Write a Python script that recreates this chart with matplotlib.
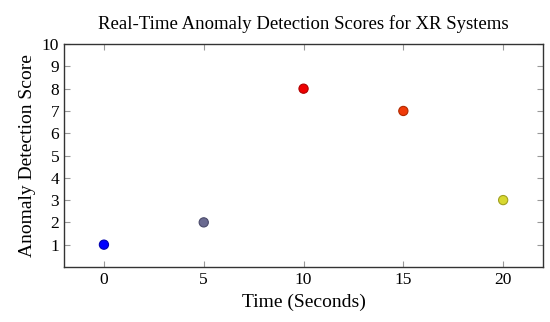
import matplotlib
matplotlib.use("Agg")
import matplotlib.pyplot as plt
import numpy as np

time_s = [0, 5, 10, 15, 20]
scores = [1, 2, 8, 7, 3]
colors = ["#0000ff", "#6a6a90", "#ee0000", "#f03a08", "#d8d830"]
edges = ["#0000b0", "#4a4a6a", "#b00000", "#b02a00", "#a0a020"]
xticks = [0, 5, 10, 15, 20]
yticks = list(range(1, 11))

plt.rcParams['font.family'] = ['Liberation Serif', 'DejaVu Serif']

fig = plt.figure(figsize=(5.5, 3.22), dpi=100)
ax = fig.add_axes([0.1164, 0.171, 0.871, 0.692])
ax.scatter(time_s, scores, c=colors, edgecolors=edges, s=44, linewidths=0.8, zorder=3)
ax.set_xlim(-2, 22)
ax.set_ylim(0, 10)
ax.set_xticks(xticks)
ax.set_yticks(yticks)
ax.tick_params(direction='in', top=True, right=True, length=4, color='#999999', labelsize=12.5)
for s in ax.spines.values():
    s.set_linewidth(1.0)
    s.set_color('#333333')
ax.set_xlabel("Time (Seconds)", fontsize=14)
ax.set_ylabel("Anomaly Detection Score", fontsize=14)
ax.set_title("Real-Time Anomaly Detection Scores for XR Systems", fontsize=13.5, pad=11)
fig.savefig("out.png", dpi=100)
